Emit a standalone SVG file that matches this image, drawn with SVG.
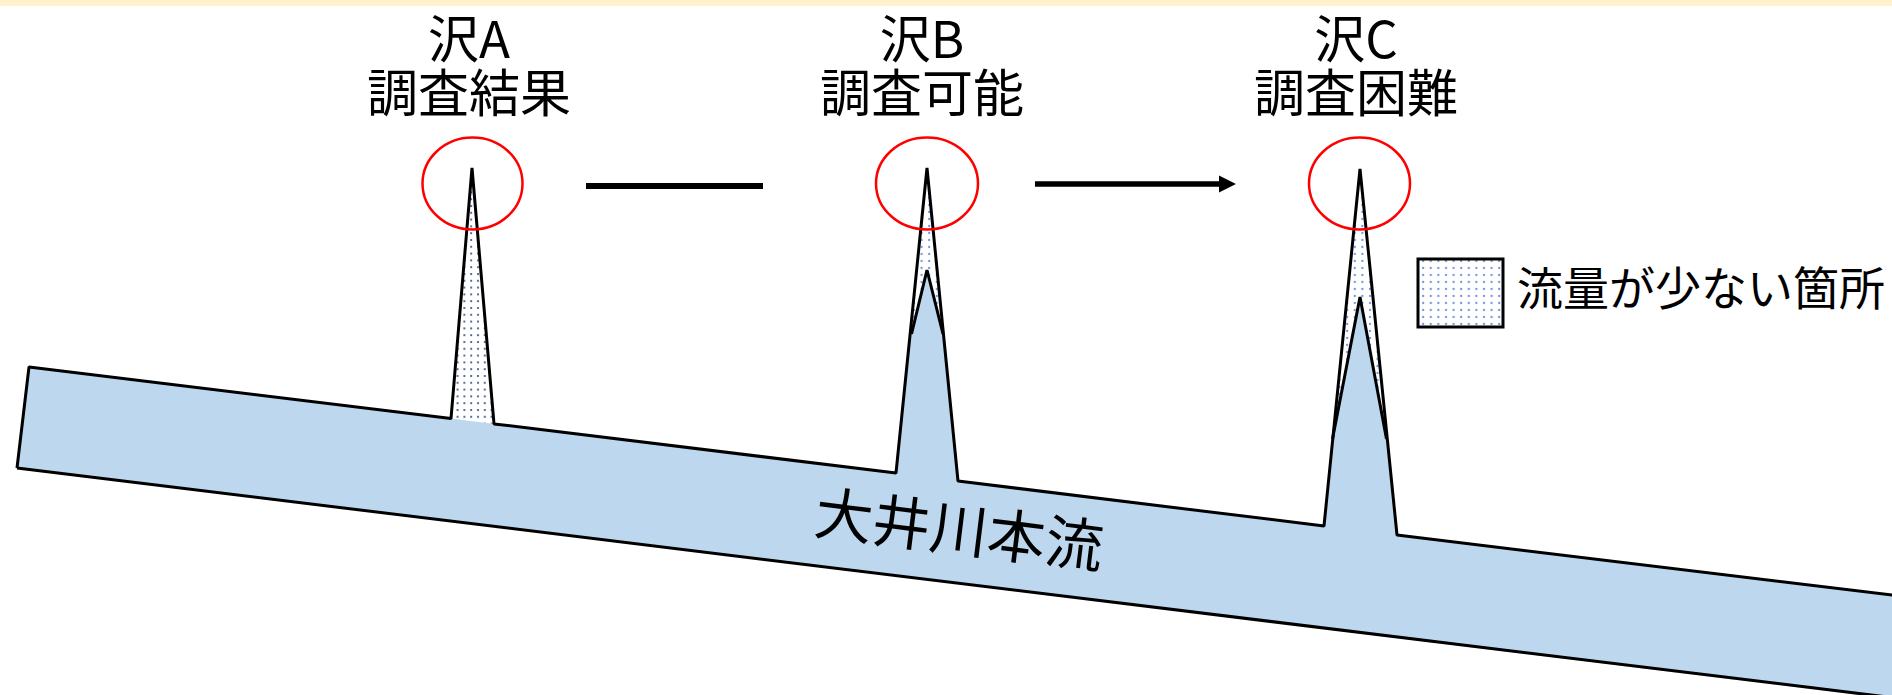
<svg xmlns="http://www.w3.org/2000/svg" width="1892" height="695" viewBox="0 0 1892 695">
<style>
.t{font-family:"Noto Sans CJK JP","Noto Sans",sans-serif;fill:#000}
.lbl{font-size:51px;text-anchor:middle}
.ln{fill:none;stroke:#000;stroke-width:3;stroke-linejoin:bevel}
.circ{fill:none;stroke:#FF0000;stroke-width:2.5}
</style>
<defs>
<pattern id="dotLight" patternUnits="userSpaceOnUse" width="7.6" height="7" x="0" y="0">
<rect width="7.6" height="7" fill="#FFFFFF"/>
<circle cx="2" cy="2" r="1.15" fill="#6F95DE"/>
</pattern>
<pattern id="dotDark" patternUnits="userSpaceOnUse" width="6.8" height="6.8">
<rect width="6.8" height="6.8" fill="#FFFFFF"/>
<circle cx="2" cy="2" r="1.1" fill="#3A5486"/>
</pattern>
</defs>
<rect x="0" y="0" width="1892" height="6" fill="#FFF2CC"/>
<g id="river">
<polygon points="451,418.6 472,167 494,423.9" fill="url(#dotDark)"/>
<polygon points="896,473 927,167 958,481" fill="url(#dotLight)"/>
<polygon points="1324,526 1360,168 1397,535" fill="url(#dotLight)"/>
<path d="M17,468 L29,367 L451,418.6 L494,423.9 L896,473 L910.2,333 L927,270 L943.4,333 L958,481 L1324,526 L1333,438 L1360,297 L1387,438 L1397,535 L1900,596 L1900,700 Z" fill="#BDD7EE"/>
<path class="ln" d="M17,468 L29,367 L451,418.6 L472,168 L494,423.9 L896,473 L927,168 L958,481 L1324,526 L1360,169 L1397,535 L1900,596"/>
<path class="ln" d="M17,468 L1900,698.5"/>
<path class="ln" d="M911.5,334 L927,270 L943,334"/>
<path class="ln" d="M1332.5,439 L1360,297 L1386.5,439"/>
<text class="t" x="959" y="551" font-size="58" text-anchor="middle" transform="rotate(7 959 531)">大井川本流</text>
</g>
<g id="sawaA">
<ellipse class="circ" cx="472.5" cy="183.5" rx="50" ry="46"/>
<text class="t lbl" x="469" y="58">沢A</text>
<text class="t lbl" x="469" y="112">調査結果</text>
</g>
<g id="sawaB">
<ellipse class="circ" cx="927" cy="183.5" rx="51" ry="46"/>
<text class="t lbl" x="922" y="58">沢B</text>
<text class="t lbl" x="922" y="112">調査可能</text>
</g>
<g id="sawaC">
<ellipse class="circ" cx="1359.5" cy="183.5" rx="50.5" ry="46"/>
<text class="t lbl" x="1356" y="58">沢C</text>
<text class="t lbl" x="1356" y="112">調査困難</text>
</g>
<g id="connectors">
<line x1="586" y1="186" x2="763" y2="186" stroke="#000" stroke-width="6"/>
<line x1="1035" y1="184" x2="1221" y2="184" stroke="#000" stroke-width="5.5"/>
<path d="M1219,175.5 L1236,184 L1219,192.5 Z" fill="#000"/>
</g>
<g id="legend">
<rect x="1418" y="259" width="85" height="68" fill="url(#dotLight)" stroke="#000" stroke-width="3"/>
<text class="t" x="1517" y="305" font-size="46">流量が少ない箇所</text>
</g>
</svg>
